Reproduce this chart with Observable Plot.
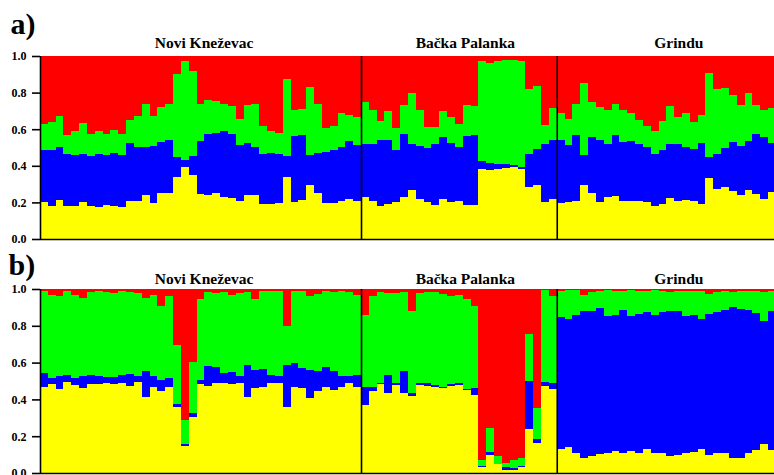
<!DOCTYPE html>
<html><head><meta charset="utf-8">
<script src="https://cdn.jsdelivr.net/npm/d3@7"></script>
<script src="https://cdn.jsdelivr.net/npm/@observablehq/plot@0.6"></script>
<style>
body{margin:0;background:#fff;}
#chart svg{display:block;}
#chart svg, #chart svg text{font-family:'Liberation Serif','Times New Roman',Times,serif !important;}
</style>
</head><body><div id="chart"></div>
<script>
// Populations (left to right) and number of individuals shown
const populations = ["Novi Kneževac", "Bačka Palanka", "Grindu"];
const popSizes = [41, 25, 28];
const clusters = ["K1", "K2", "K3", "K4"];               // yellow, blue, green, red
const clusterColors = ["#ffff00", "#0000ff", "#00ff00", "#ff0000"];
const yTicks = [0, 0.2, 0.4, 0.6, 0.8, 1.0];

// ---------- Panel a) : cumulative membership boundaries per individual ----------
// top of yellow (K1), top of blue (K2), top of green (K3); red (K4) fills to 1
const aYellowNK = [0.201,0.183,0.214,0.183,0.183,0.201,0.179,0.174,0.186,0.183,0.174,0.205,0.21,0.238,0.196,0.25,0.25,0.338,0.393,0.351,0.247,0.238,0.25,0.229,0.223,0.205,0.243,0.238,0.192,0.192,0.197,0.338,0.201,0.214,0.296,0.25,0.196,0.196,0.21,0.219,0.21];
const aBlueNK   = [0.488,0.488,0.503,0.466,0.461,0.466,0.452,0.466,0.461,0.472,0.461,0.525,0.503,0.503,0.51,0.53,0.539,0.448,0.433,0.452,0.536,0.576,0.58,0.589,0.576,0.512,0.525,0.503,0.463,0.47,0.466,0.452,0.561,0.567,0.457,0.47,0.475,0.488,0.503,0.536,0.512];
const aGreenNK  = [0.631,0.64,0.671,0.567,0.589,0.634,0.576,0.589,0.576,0.594,0.576,0.649,0.671,0.74,0.671,0.722,0.74,0.90,0.973,0.918,0.74,0.762,0.755,0.735,0.726,0.658,0.731,0.735,0.616,0.589,0.58,0.872,0.704,0.713,0.828,0.74,0.607,0.616,0.686,0.68,0.664];

const aYellowBP = [0.229,0.21,0.183,0.192,0.201,0.229,0.269,0.216,0.201,0.186,0.216,0.201,0.21,0.188,0.188,0.384,0.375,0.384,0.388,0.393,0.384,0.283,0.293,0.201,0.219];
const aBlueBP   = [0.521,0.521,0.539,0.543,0.488,0.576,0.521,0.506,0.499,0.517,0.558,0.525,0.503,0.561,0.567,0.424,0.417,0.411,0.408,0.405,0.395,0.463,0.49,0.52,0.543];
const aGreenBP  = [0.75,0.704,0.644,0.698,0.607,0.731,0.799,0.704,0.612,0.612,0.698,0.667,0.631,0.731,0.726,0.973,0.963,0.974,0.978,0.978,0.973,0.817,0.835,0.622,0.718];

const aYellowGR = [0.196,0.201,0.21,0.293,0.25,0.201,0.229,0.234,0.21,0.207,0.207,0.201,0.183,0.192,0.225,0.21,0.214,0.205,0.192,0.335,0.274,0.283,0.265,0.238,0.269,0.247,0.219,0.256];
const aBlueGR   = [0.543,0.512,0.567,0.457,0.558,0.543,0.521,0.567,0.53,0.536,0.521,0.503,0.463,0.484,0.517,0.517,0.503,0.494,0.525,0.448,0.463,0.499,0.53,0.506,0.536,0.576,0.558,0.525];
const aGreenGR  = [0.691,0.658,0.737,0.85,0.75,0.722,0.704,0.74,0.704,0.686,0.653,0.616,0.59,0.645,0.726,0.667,0.689,0.64,0.68,0.909,0.817,0.823,0.786,0.731,0.799,0.731,0.704,0.718];

// ---------- Panel b) ----------
const bYellowNK = [0.47,0.485,0.456,0.492,0.479,0.461,0.485,0.485,0.488,0.485,0.488,0.475,0.492,0.415,0.47,0.443,0.47,0.361,0.146,0.303,0.485,0.473,0.491,0.488,0.485,0.488,0.415,0.461,0.47,0.491,0.488,0.361,0.47,0.461,0.406,0.443,0.47,0.452,0.47,0.488,0.47];
const bBlueNK   = [0.546,0.515,0.528,0.533,0.515,0.528,0.533,0.528,0.524,0.521,0.533,0.537,0.528,0.555,0.528,0.506,0.515,0.375,0.157,0.324,0.506,0.582,0.575,0.546,0.551,0.528,0.588,0.561,0.564,0.533,0.528,0.588,0.597,0.57,0.561,0.552,0.575,0.552,0.528,0.528,0.533];
const bGreenNK  = [0.991,0.97,0.961,0.988,0.97,0.952,0.984,0.988,0.984,0.98,0.988,0.984,0.98,0.952,0.97,0.906,0.961,0.697,0.288,0.601,0.947,0.984,0.98,0.984,0.97,0.98,0.984,0.943,0.988,0.988,0.988,0.8,0.988,0.988,0.961,0.975,0.988,0.982,0.988,0.982,0.97];

const bYellowBP = [0.37,0.443,0.485,0.437,0.479,0.434,0.419,0.479,0.474,0.47,0.461,0.474,0.479,0.452,0.425,0.03,0.097,0.048,0.019,0.015,0.034,0.237,0.161,0.474,0.456];
const bBlueBP   = [0.466,0.47,0.49,0.533,0.491,0.552,0.434,0.488,0.488,0.479,0.47,0.485,0.488,0.456,0.461,0.037,0.116,0.05,0.03,0.025,0.036,0.502,0.183,0.492,0.488];
const bGreenBP  = [0.861,0.961,0.982,0.98,0.98,0.982,0.879,0.98,0.982,0.982,0.975,0.961,0.97,0.947,0.906,0.073,0.243,0.092,0.052,0.073,0.08,0.755,0.351,0.993,0.961];

const bYellowGR = [0.128,0.139,0.106,0.084,0.092,0.103,0.106,0.121,0.106,0.119,0.106,0.128,0.11,0.106,0.092,0.097,0.11,0.115,0.128,0.097,0.106,0.11,0.084,0.084,0.106,0.124,0.157,0.124];
const bBlueGR   = [0.848,0.837,0.861,0.879,0.883,0.897,0.851,0.861,0.884,0.855,0.866,0.873,0.861,0.873,0.879,0.879,0.851,0.861,0.837,0.866,0.873,0.884,0.901,0.892,0.884,0.869,0.828,0.879];
const bGreenGR  = [0.99,0.995,0.995,0.97,0.985,0.99,0.995,0.99,0.99,0.995,0.99,0.99,0.995,0.99,0.985,0.99,0.99,0.99,0.99,0.975,0.985,0.99,0.985,0.99,0.99,0.99,0.985,0.99];

// ---------- build tables ----------
function segments(yellow, blue, green) {
  const rows = [];
  yellow.forEach((y, i) => {
    const b = blue[i], g = green[i];
    rows.push({i, k: "K1", y1: 0, y2: y});
    rows.push({i, k: "K2", y1: y, y2: b});
    rows.push({i, k: "K3", y1: b, y2: g});
    rows.push({i, k: "K4", y1: g, y2: 1});
  });
  return rows;
}
const totalBars = d3.sum(popSizes);
const starts = d3.cumsum([0, ...popSizes]).slice(0, popSizes.length);
const separators = starts.slice(1);
const popLabels = populations.map((name, j) => ({name, cx: starts[j] + popSizes[j] / 2}));
const labelNudge = [3, 6, 12];

const FONT = "'Liberation Serif', 'Times New Roman', Times, serif";

function panel({tag, yellow, blue, green, height, marginTop, marginBottom, tagDy, tagDx, popDy}) {
  const data = segments(yellow, blue, green);
  return Plot.plot({
    width: 774, height, marginLeft: 40, marginRight: 0, marginTop, marginBottom,
    style: {overflow: "visible", fontFamily: FONT, background: "transparent"},
    x: {domain: [0, totalBars - 0.25], axis: null},
    y: {domain: [0, 1], axis: null},
    color: {type: "ordinal", domain: clusters, range: clusterColors},
    marks: [
      Plot.rect(data, {x1: "i", x2: d => d.i + 1, y1: "y1", y2: "y2", fill: "k", clip: true, shapeRendering: "crispEdges"}),
      Plot.ruleX(separators, {stroke: "black", strokeWidth: 1.6}),
      Plot.ruleX([0], {stroke: "black", strokeWidth: 1.6}),
      Plot.ruleY([0], {stroke: "black", strokeWidth: 1.6}),
      Plot.axisY({ticks: yTicks, tickFormat: d3.format(".1f"), tickSize: 8, tickPadding: 6,
        fontSize: 12, fontWeight: "bold", stroke: "black", strokeWidth: 1.6, color: "black", label: null}),
      ...popLabels.map((p, j) => Plot.text([p], {x: "cx", text: "name", frameAnchor: "top", lineAnchor: "bottom",
        dy: popDy, dx: labelNudge[j], fontSize: 15.5, fontWeight: "bold", fill: "black"})),
      Plot.text([tag], {frameAnchor: "top-left", textAnchor: "start", lineAnchor: "bottom",
        dx: tagDx, dy: tagDy, fontSize: 30, fontWeight: "bold", fill: "black"})
    ]
  });
}

const chart = document.getElementById("chart");
chart.append(panel({tag: "a)", yellow: [...aYellowNK, ...aYellowBP, ...aYellowGR], blue: [...aBlueNK, ...aBlueBP, ...aBlueGR],
  green: [...aGreenNK, ...aGreenBP, ...aGreenGR], height: 240, marginTop: 56, marginBottom: 1, tagDy: -23, tagDx: -30, popDy: -9}));
chart.append(panel({tag: "b)", yellow: [...bYellowNK, ...bYellowBP, ...bYellowGR], blue: [...bBlueNK, ...bBlueBP, ...bBlueGR],
  green: [...bGreenNK, ...bGreenBP, ...bGreenGR], height: 235, marginTop: 49, marginBottom: 2, tagDy: -15, tagDx: -32, popDy: -6}));
</script>
</body></html>
